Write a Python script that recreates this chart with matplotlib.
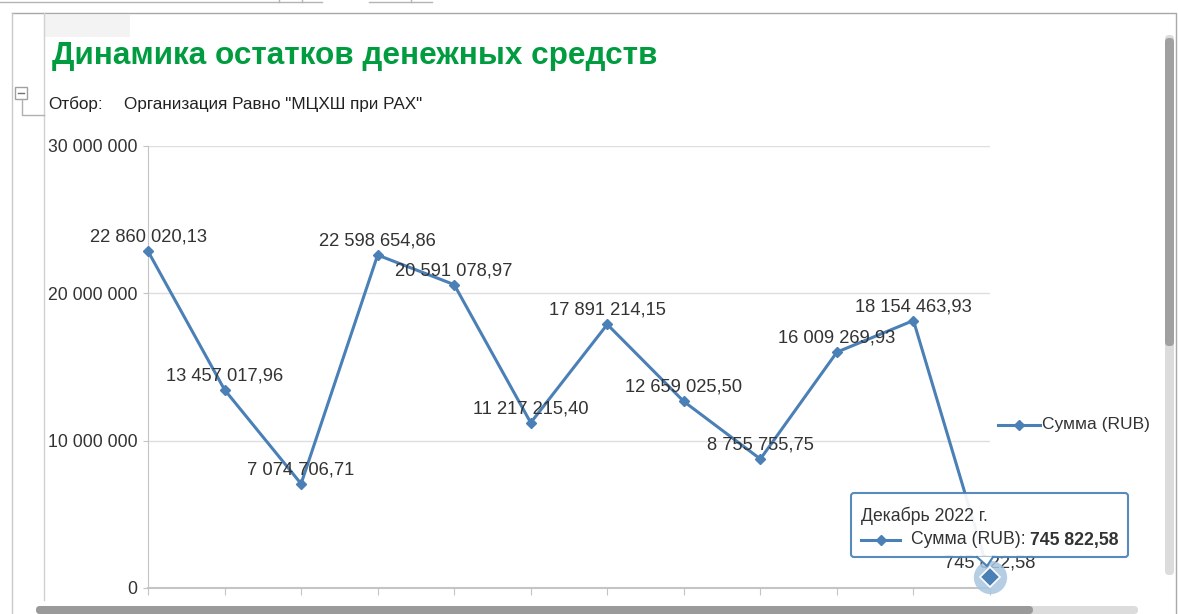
import matplotlib
matplotlib.use('Agg')
import matplotlib.pyplot as plt
from matplotlib.patches import Rectangle, FancyBboxPatch, Polygon
from matplotlib.lines import Line2D
from matplotlib.transforms import IdentityTransform
from matplotlib.ticker import FuncFormatter

plt.rcParams['font.family'] = ['Liberation Sans', 'DejaVu Sans']

# data
months = ['Январь 2022 г.', 'Февраль 2022 г.', 'Март 2022 г.', 'Апрель 2022 г.',
          'Май 2022 г.', 'Июнь 2022 г.', 'Июль 2022 г.', 'Август 2022 г.',
          'Сентябрь 2022 г.', 'Октябрь 2022 г.', 'Ноябрь 2022 г.', 'Декабрь 2022 г.']
values = [22860020.13, 13457017.96, 7074706.71, 22598654.86, 20591078.97, 11217215.40,
          17891214.15, 12659025.50, 8755755.75, 16009269.93, 18154463.93, 745822.58]
series_name = 'Сумма (RUB)'
title = 'Динамика остатков денежных средств'
filter_label = 'Отбор:'
filter_value = 'Организация Равно "МЦХШ при РАХ"'
y_ticks = [0, 10000000, 20000000, 30000000]

BLUE = '#4a80b6'
GREEN = '#009c3f'
TXT = '#333333'
W, H = 1178, 614
pix = IdentityTransform()


def fmt_int(v, pos=None):
    return f'{v:,.0f}'.replace(',', ' ')


def fmt_money(v):
    return f'{v:,.2f}'.replace(',', ' ').replace('.', ',')


def Y(y):  # screen pixel (top origin) -> display pixel
    return H - y


fig = plt.figure(figsize=(W / 100, H / 100), dpi=100)

# --- window chrome around the report
chrome = [
    Line2D([0, 322], [Y(2), Y(2)], color='#b4b4b4', lw=1),
    Line2D([279, 279], [Y(0), Y(2)], color='#b4b4b4', lw=1),
    Line2D([302, 302], [Y(0), Y(2)], color='#b4b4b4', lw=1),
    Line2D([369, 432], [Y(2), Y(2)], color='#b4b4b4', lw=1),
    Line2D([411, 411], [Y(0), Y(2)], color='#b4b4b4', lw=1),
    Line2D([12, 1176, 1176], [Y(13), Y(13), Y(614)], color='#a8a8a8', lw=1),
    Line2D([12, 12], [Y(13), Y(614)], color='#c8c8c8', lw=1),
    Line2D([44, 44], [Y(13), Y(600)], color='#d0d0d0', lw=1),
    Line2D([22, 22, 44], [Y(99), Y(115), Y(115)], color='#b0b0b0', lw=1),
]
for a in chrome:
    a.set_transform(pix)
    fig.add_artist(a)
fig.add_artist(Rectangle((45, Y(37)), 85, 22, transform=pix, fc='#f3f3f3', ec='none'))
fig.add_artist(Rectangle((15, Y(99)), 12, 12, transform=pix, fc='white', ec='#a0a0a0', lw=1))
fig.add_artist(Line2D([18, 24], [Y(93), Y(93)], transform=pix, color='#707070', lw=1))
# scrollbars
fig.add_artist(FancyBboxPatch((1165, Y(575)), 9, 540, transform=pix, boxstyle='round,pad=0,rounding_size=4',
                              fc='#dcdcdc', ec='none'))
fig.add_artist(FancyBboxPatch((1165, Y(346)), 9, 308, transform=pix, boxstyle='round,pad=0,rounding_size=4',
                              fc='#a0a0a0', ec='none'))
fig.add_artist(FancyBboxPatch((36, Y(614)), 1102, 8, transform=pix, boxstyle='round,pad=0,rounding_size=4',
                              fc='#dcdcdc', ec='none'))
fig.add_artist(FancyBboxPatch((36, Y(614)), 997, 8, transform=pix, boxstyle='round,pad=0,rounding_size=4',
                              fc='#9a9a9a', ec='none'))

# --- header
fig.text(52, Y(56), title, transform=pix, color=GREEN, fontsize=22.7, fontweight='bold', va='center')
fig.text(48, Y(104), filter_label, transform=pix, color='#222222', fontsize=12.3, va='center')
fig.text(124, Y(104), filter_value, transform=pix, color='#222222', fontsize=12.3, va='center')

# --- chart
ax = fig.add_axes([148 / W, 1 - 588 / H, (990 - 148) / W, (588 - 146) / H])
x = list(range(len(values)))
ax.set_xlim(0, len(values) - 1)
ax.set_ylim(y_ticks[0], y_ticks[-1])
ax.set_yticks(y_ticks)
ax.yaxis.set_major_formatter(FuncFormatter(fmt_int))
ax.set_xticks(x)
ax.set_xticklabels([])
ax.grid(axis='y', color='#dedede', lw=1)
ax.set_axisbelow(True)
for s in ['top', 'right']:
    ax.spines[s].set_visible(False)
ax.spines['left'].set_color('#c4c4c4')
ax.spines['bottom'].set_color('#c4c4c4')
ax.spines['bottom'].set_linewidth(1.5)
ax.tick_params(axis='y', length=3.8, color='#c4c4c4', labelsize=12.7, labelcolor=TXT, pad=3.6)
ax.tick_params(axis='x', length=5, color='#c4c4c4')

ax.plot(x, values, color=BLUE, lw=2.2, marker='D', ms=5, clip_on=False, zorder=3)
for xi, v in zip(x, values):
    ax.annotate(fmt_money(v), (xi, v), xytext=(0, 14), textcoords='offset pixels',
                ha='center', va='center', fontsize=13.2, color=TXT, zorder=4, annotation_clip=False)

# hovered point
ax.plot([x[-1]], [values[-1]], marker='o', ms=24, color='#a9c6e0', alpha=0.85, mec='none',
        clip_on=False, zorder=5)
ax.plot([x[-1]], [values[-1]], marker='D', ms=10, color=BLUE, mec='white', mew=1.2,
        clip_on=False, zorder=6)

# --- legend
fig.add_artist(Line2D([998, 1040], [Y(425), Y(425)], transform=pix, color=BLUE, lw=2.2))
fig.add_artist(Line2D([1019], [Y(425)], transform=pix, color=BLUE, marker='D', ms=5))
fig.text(1042, Y(425), series_name, transform=pix, fontsize=12.5, color=TXT, va='center')

# --- tooltip
tip = FancyBboxPatch((851, Y(557)), 277, 64, transform=pix, boxstyle='round,pad=0,rounding_size=3',
                     fc='white', ec=BLUE, lw=1.5, alpha=0.92, zorder=10)
fig.add_artist(tip)
fig.add_artist(Polygon([(977, Y(556.5)), (993, Y(556.5)), (987, Y(566))], closed=True, transform=pix,
                       fc='white', ec='none', zorder=11))
fig.add_artist(Line2D([977, 987, 993], [Y(557), Y(566), Y(557)], transform=pix, color=BLUE, lw=1.5, zorder=11))
fig.text(861, Y(516), months[-1], transform=pix, fontsize=12.7, color=TXT, va='center', zorder=12)
fig.add_artist(Line2D([861, 900], [Y(540), Y(540)], transform=pix, color=BLUE, lw=2.2, zorder=12))
fig.add_artist(Line2D([881], [Y(540)], transform=pix, color=BLUE, marker='D', ms=5, zorder=12))
t1 = fig.text(911, Y(540), series_name + ': ', transform=pix, fontsize=12.7, color=TXT, va='center', zorder=12)
fig.canvas.draw()
bb = t1.get_window_extent()
fig.text(bb.x1, Y(540), fmt_money(values[-1]), transform=pix, fontsize=12.7, fontweight='bold',
         color=TXT, va='center', zorder=12)

fig.savefig('out.png', dpi=100)
